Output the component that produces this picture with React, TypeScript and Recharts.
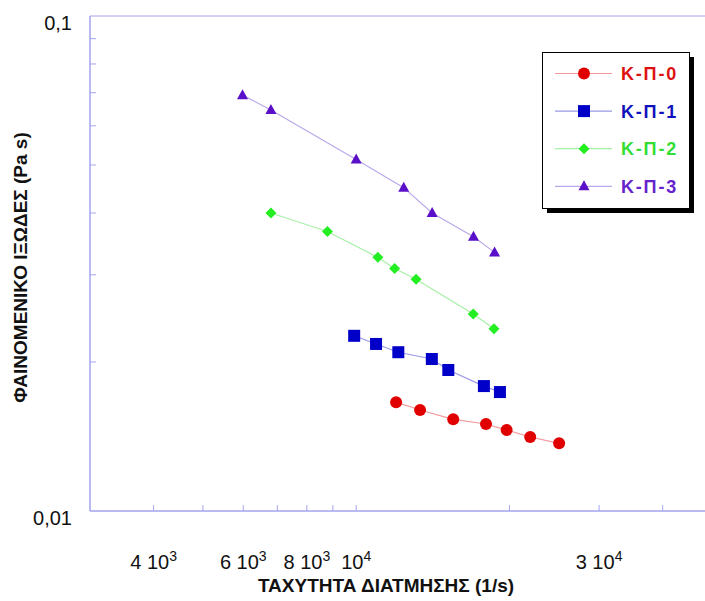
import React from 'react';
import {
  ScatterChart,
  Scatter,
  XAxis,
  YAxis,
  ReferenceArea,
  Legend,
} from 'recharts';

// shear rate (1/s) and apparent viscosity (Pa s)
const kp0Rate = [11980, 13350, 15510, 17990, 19750, 21970, 25040];
const kp0Visc = [0.01659, 0.016, 0.01532, 0.01499, 0.01457, 0.01411, 0.0137];

const kp1Rate = [9910, 10940, 12100, 14080, 15170, 17820, 19160];
const kp1Visc = [0.02259, 0.02175, 0.02093, 0.02028, 0.01927, 0.01788, 0.01739];

const kp2Rate = [6800, 8780, 11030, 11900, 13110, 16980, 18650];
const kp2Visc = [0.04, 0.0367, 0.03254, 0.0309, 0.0294, 0.025, 0.02335];

const kp3Rate = [5980, 6800, 10000, 12400, 14100, 17000, 18700];
const kp3Visc = [0.0692, 0.0646, 0.0513, 0.045, 0.04, 0.0358, 0.0333];

const xTicks = [4000, 5000, 6000, 7000, 8000, 9000, 10000, 20000, 30000, 40000];
const xLabels: Record<number, [string, string]> = {
  4000: ['4 10', '3'],
  6000: ['6 10', '3'],
  8000: ['8 10', '3'],
  10000: ['10', '4'],
  30000: ['3 10', '4'],
};
const yTicks = [0.01, 0.02, 0.03, 0.04, 0.05, 0.06, 0.07, 0.08, 0.09, 0.1];
const yLabels: Record<number, string> = { 0.01: '0,01', 0.1: '0,1' };

const AXIS = '#a4a4ee';
const FONT = '"Liberation Sans", Arial, sans-serif';

const zip = (xs: number[], ys: number[]) => xs.map((x, i) => ({ x, y: ys[i] }));

type Kind = 'circle' | 'square' | 'diamond' | 'triangle';

const marker = (kind: Kind, cx: number, cy: number, fill: string) => {
  if (kind === 'circle') return <circle cx={cx} cy={cy} r={6} fill={fill} />;
  if (kind === 'square') return <rect x={cx - 6} y={cy - 6} width={12} height={12} fill={fill} />;
  if (kind === 'diamond')
    return (
      <polygon
        points={`${cx},${cy - 5.5} ${cx + 5.5},${cy} ${cx},${cy + 5.5} ${cx - 5.5},${cy}`}
        fill={fill}
      />
    );
  return <polygon points={`${cx},${cy - 6} ${cx + 5.5},${cy + 4} ${cx - 5.5},${cy + 4}`} fill={fill} />;
};

const series = [
  { name: 'Κ-Π-0', data: zip(kp0Rate, kp0Visc), kind: 'circle' as Kind, fill: '#e00000', line: '#f29a9a', text: '#dd1111' },
  { name: 'Κ-Π-1', data: zip(kp1Rate, kp1Visc), kind: 'square' as Kind, fill: '#0000c8', line: '#9a9ae6', text: '#1111bb' },
  { name: 'Κ-Π-2', data: zip(kp2Rate, kp2Visc), kind: 'diamond' as Kind, fill: '#22ee22', line: '#a6f0a6', text: '#33dd33' },
  { name: 'Κ-Π-3', data: zip(kp3Rate, kp3Visc), kind: 'triangle' as Kind, fill: '#5a0fc8', line: '#baa8ea', text: '#6622cc' },
];

function XTick({ x, y, payload }: any) {
  const lab = xLabels[payload.value];
  return (
    <g>
      <line x1={x} x2={x} y1={y} y2={y - 6} stroke={AXIS} />
      {lab && (
        <text x={x} y={y + 58} textAnchor="middle" fontFamily={FONT} fontSize={20} fill="#111">
          <tspan>{lab[0]}</tspan>
          <tspan dy={-8} fontSize={14}>{lab[1]}</tspan>
        </text>
      )}
    </g>
  );
}

function YTick({ x, y, payload }: any) {
  const lab = yLabels[payload.value];
  return (
    <g>
      {!lab && <line x1={x} x2={x + 6} y1={y} y2={y} stroke={AXIS} />}
      {lab && (
        <text x={x - 18} y={y + 14} textAnchor="end" fontFamily={FONT} fontSize={20} fill="#111">
          {lab}
        </text>
      )}
    </g>
  );
}

function LegendBox() {
  return (
    <svg width={153} height={162}>
      <rect x={5} y={5} width={147} height={156} fill="#000" />
      <rect x={0.5} y={0.5} width={147} height={156} fill="#fff" stroke="#000" />
      {series.map((s, i) => {
        const cy = 21.5 + i * 37.6;
        return (
          <g key={s.name}>
            <line x1={13} x2={70} y1={cy} y2={cy} stroke={s.line} strokeWidth={1.2} />
            {marker(s.kind, 42, cy, s.fill)}
            <text
              x={79}
              y={cy + 6.5}
              fontFamily={FONT}
              fontWeight="bold"
              fontSize={18}
              letterSpacing={1.8}
              fill={s.text}
            >
              {s.name}
            </text>
          </g>
        );
      })}
    </svg>
  );
}

export default function App() {
  return (
    <div style={{ position: 'absolute', left: 0, top: 0, width: 705, height: 601, overflow: 'hidden', background: '#fff' }}>
      <ScatterChart width={720} height={601} margin={{ top: 16, right: 8, bottom: 0, left: 0 }}>
        <XAxis
          dataKey="x"
          type="number"
          scale="log"
          domain={[3000, 50000]}
          ticks={xTicks}
          interval={0}
          tick={<XTick />}
          tickSize={0}
          tickMargin={0}
          tickLine={false}
          axisLine={{ stroke: AXIS }}
          height={90}
          allowDataOverflow
          label={({ viewBox }: any) => (
            <text
              x={viewBox.x + viewBox.width / 2 - 15}
              y={viewBox.y + viewBox.height - 9}
              textAnchor="middle"
              fontFamily={FONT}
              fontWeight="bold"
              fontSize={19}
              fill="#111"
            >
              ΤΑΧΥΤΗΤΑ ΔΙΑΤΜΗΣΗΣ (1/s)
            </text>
          )}
        />
        <YAxis
          dataKey="y"
          type="number"
          scale="log"
          domain={[0.01, 0.1]}
          ticks={yTicks}
          interval={0}
          tick={<YTick />}
          tickSize={0}
          tickMargin={0}
          tickLine={false}
          axisLine={{ stroke: AXIS }}
          width={90}
          allowDataOverflow
          label={({ viewBox }: any) => {
            const cx = 27;
            const cy = viewBox.y + viewBox.height / 2 + 4;
            return (
              <text
                x={cx}
                y={cy}
                transform={`rotate(-90 ${cx} ${cy})`}
                textAnchor="middle"
                fontFamily={FONT}
                fontWeight="bold"
                fontSize={19}
                fill="#111"
              >
                ΦΑΙΝΟΜΕΝΙΚΟ ΙΞΩΔΕΣ (Pa s)
              </text>
            );
          }}
        />
        <ReferenceArea x1={3000} x2={50000} y1={0.01} y2={0.1} fill="none" stroke={AXIS} ifOverflow="visible" />
        {series.map((s) => (
          <Scatter
            key={s.name}
            name={s.name}
            data={s.data}
            fill={s.fill}
            line={{ stroke: s.line, strokeWidth: 1.2 }}
            shape={(p: any) => marker(s.kind, p.cx, p.cy, s.fill)}
            isAnimationActive={false}
          />
        ))}
        <Legend
          layout="horizontal"
          align="center"
          verticalAlign="middle"
          content={() => <LegendBox />}
          wrapperStyle={{ position: 'absolute', left: 542, top: 52, width: 153, height: 162 }}
        />
      </ScatterChart>
    </div>
  );
}
